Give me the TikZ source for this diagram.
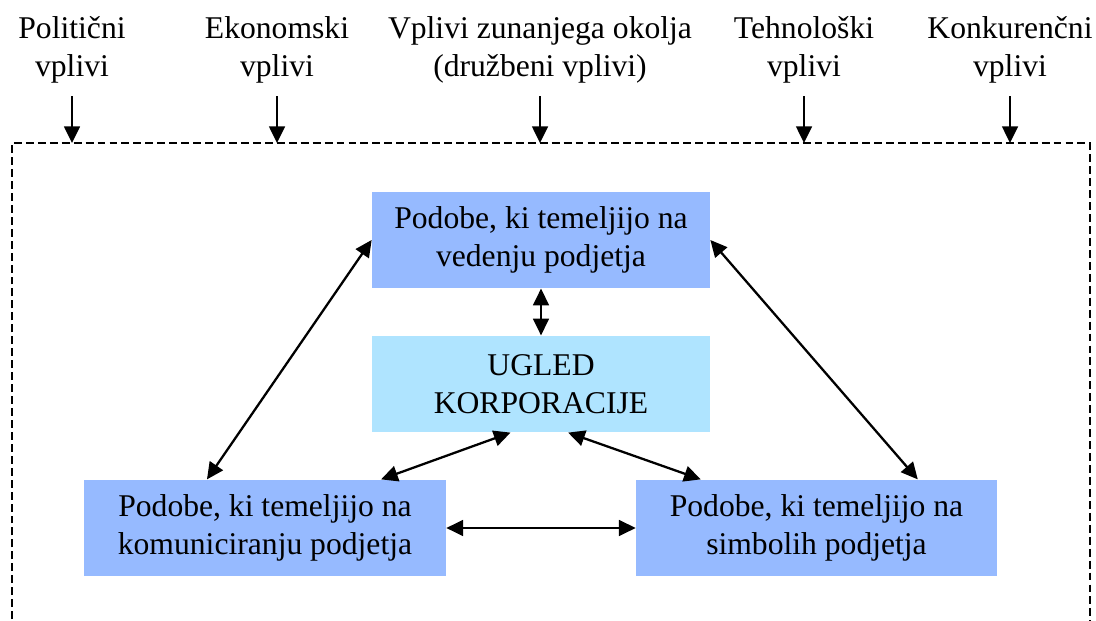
\documentclass[tikz,border=0pt]{standalone}
\usepackage{fontspec}
\setmainfont{Liberation Serif}
\usetikzlibrary{arrows.meta, calc}
\definecolor{modrica}{RGB}{150,186,255}
\definecolor{svetlomodra}{RGB}{175,228,255}
\tikzset{>={Triangle[length=9.5pt,width=9pt]}}
\tikzset{podoba/.style={fill=modrica, align=center, inner sep=0pt, minimum height=1.93cm},
	vpliv/.style={align=center, inner sep=0.26cm},
	puscica/.style={line width=1.3pt}}

\begin{document}
\begin{tikzpicture}[font=\fontsize{18}{21.6}\selectfont]

	\useasboundingbox (0,0) rectangle (21.92,12.42);

	% okolje
	\coordinate (okl) at (0.24,9.56);
	\coordinate (okd) at (21.8,9.56);
	\coordinate (okls) at (0.24,-0.2);
	\coordinate (okds) at (21.8,-0.2);
	\draw [dash pattern=on 4.5pt off 2.3pt, line width=0.6pt] (okls) -- (okl) -- (okd) -- (okds);

	\node [vpliv] (pol) at (1.44,11.43) {Politični\\vplivi};
	\node [vpliv] (eko) at (5.54,11.43) {Ekonomski\\vplivi};
	\node [vpliv] (zun) at (10.8,11.43) {Vplivi zunanjega okolja\\(družbeni vplivi)};
	\node [vpliv] (teh) at (16.08,11.43) {Tehnološki\\vplivi};
	\node [vpliv] (kon) at (20.2,11.43) {Konkurenčni\\vplivi};

	\foreach \n in {pol,eko,zun,teh,kon}
		\draw [puscica,->] (\n) -- (\n |- okl);

	% podobe
	\node [podoba, minimum width=6.76cm] (vodenje) at (10.82,7.62) {Podobe, ki temeljijo na\\vedenju podjetja};
	\node [podoba, fill=svetlomodra, minimum width=6.76cm] (ugled) at (10.82,4.74) {UGLED\\KORPORACIJE};
	\node [podoba, minimum width=7.24cm] (kom) at (5.3,1.86) {Podobe, ki temeljijo na\\komuniciranju podjetja};
	\node [podoba, minimum width=7.22cm] (sim) at (16.33,1.86) {Podobe, ki temeljijo na\\simbolih podjetja};

	\draw [puscica,<->] (vodenje) -- (ugled);
	\draw [puscica,<->] (vodenje.west) -- ($(kom.north west)!0.34!(kom.north east)$);
	\draw [puscica,<->] (vodenje.east) -- ($(sim.north west)!0.78!(sim.north east)$);
	\draw [puscica,<->] ($(ugled.south west)!0.41!(ugled.south east)$) -- ($(kom.north west)!0.82!(kom.north east)$);
	\draw [puscica,<->] ($(ugled.south west)!0.58!(ugled.south east)$) -- ($(sim.north west)!0.18!(sim.north east)$);
	\draw [puscica,<->] (kom) -- (sim);

\end{tikzpicture}
\end{document}
